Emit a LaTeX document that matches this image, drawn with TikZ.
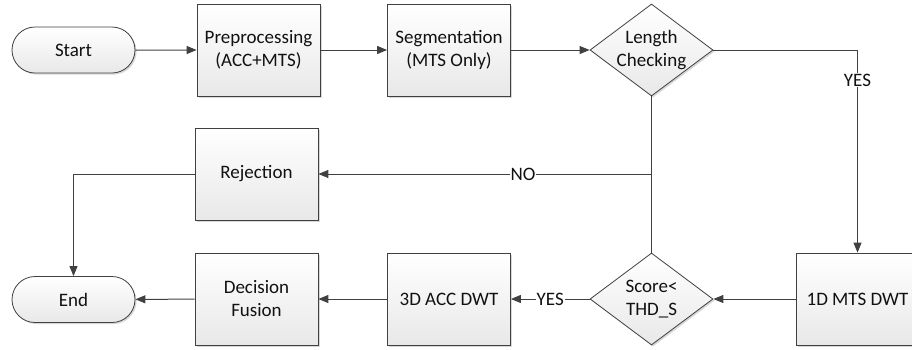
\documentclass[tikz,border=0pt]{standalone}
\usepackage{fontspec}
\setmainfont{Carlito}
\usetikzlibrary{shapes.geometric,shapes.misc,arrows.meta,shadows}
\definecolor{edge}{HTML}{404040}
\definecolor{ink}{HTML}{111111}
\begin{document}
\begin{tikzpicture}[x=1pt,y=-1pt,
  font=\fontsize{19}{23}\selectfont,
  base/.style={draw=edge, line width=0.8pt, top color=white, bottom color=black!9,
    text=ink, drop shadow={shadow xshift=1.6pt, shadow yshift=-1.6pt, fill=black!30, opacity=0.5}},
  proc/.style={base, rectangle, minimum width=123pt, minimum height=92pt, align=center, inner sep=0pt},
  term/.style={base, rounded rectangle, minimum width=123pt, minimum height=46pt, inner sep=0pt},
  decide/.style={base, diamond, minimum width=123pt, minimum height=92pt, inner sep=0pt},
  flow/.style={draw=edge, line width=1pt, -{Triangle[length=10pt,width=8pt]}},
  link/.style={draw=edge, line width=1pt},
  tag/.style={fill=white, inner sep=1pt, text=ink}
]
\useasboundingbox (0,0) rectangle (912,349);
\clip (0,0) rectangle (912,349);

% top row
\node[term] (start) at (73.5,50) {Start};
\node[proc] (pre) at (258.5,50) {Preprocessing\\(ACC+MTS)};
\node[proc] (seg) at (449,50) {Segmentation\\(MTS Only)};
\node[decide, label={[align=center, text=ink]center:Length\\Checking}] (len) at (651.5,50) {};

% middle row
\node[proc] (rej) at (256.5,174) {Rejection};

% bottom row
\node[proc] (mts) at (857.5,299) {1D MTS DWT};
\node[decide, label={[align=center, text=ink]center:Score<\\THD\_S}] (score) at (651.5,299) {};
\node[proc] (acc) at (449,299) {3D ACC DWT};
\node[proc] (fus) at (256.5,299) {Decision\\Fusion};
\node[term] (fin) at (73.5,299.5) {End};

% connectors
\draw[flow] (start) -- (pre);
\draw[flow] (pre) -- (seg);
\draw[flow] (seg) -- (len);
\draw[flow] (len.east) -| node[tag, pos=0.574] {YES} (mts.north);
\draw[link] (len.south) -- (score.north);
\coordinate (split) at (len.south |- rej.east);
\draw[flow] (split) -- node[tag, pos=0.386] {NO} (rej.east);
\draw[flow] (rej.west) -| (fin.north);
\draw[flow] (mts) -- (score);
\draw[flow] (score) -- node[tag] {YES} (acc);
\draw[flow] (acc) -- (fus);
\draw[flow] (fus) -- (fin);
\end{tikzpicture}
\end{document}
